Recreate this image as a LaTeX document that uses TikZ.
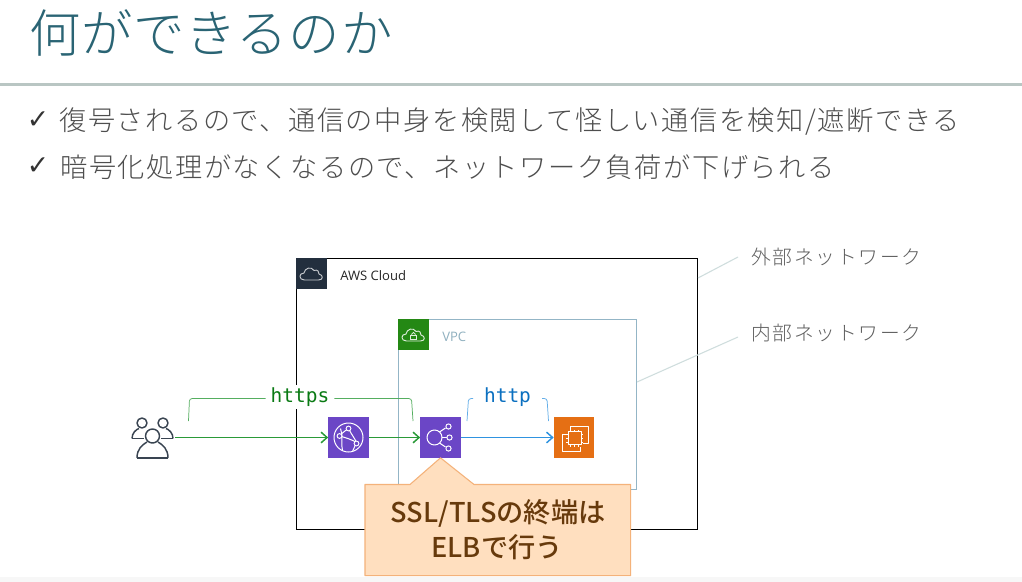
\documentclass[tikz,border=0pt]{standalone}
\usepackage{fontspec}
\usetikzlibrary{arrows.meta,calc}
\setmainfont{Noto Sans CJK JP}
\newfontfamily\jpwide[LetterSpace=5.8]{Noto Sans CJK JP Light}
\newfontfamily\jptitle[LetterSpace=1.6]{Noto Sans CJK JP Light}
\newfontfamily\jpnote[LetterSpace=9]{Noto Sans CJK JP Light}
\newfontfamily\jpcallout{Noto Sans CJK JP Medium}
\newfontfamily\latinui{Open Sans}
\newfontfamily\codefont{DejaVu Sans Mono}
\newfontfamily\symfont{DejaVu Sans}
\definecolor{titleteal}{HTML}{2A6474}
\definecolor{rulegray}{HTML}{B9C6C3}
\definecolor{bodygray}{HTML}{4E4E4E}
\definecolor{notegray}{HTML}{5E5E5E}
\definecolor{leadercol}{HTML}{CFDDDD}
\definecolor{awsnavy}{HTML}{232F3E}
\definecolor{vpcgreen}{HTML}{248814}
\definecolor{vpcline}{HTML}{93B5C6}
\definecolor{vpctext}{HTML}{8FB0BF}
\definecolor{netpurple}{HTML}{6B46C6}
\definecolor{ec2orange}{HTML}{E56F14}
\definecolor{httpsgreen}{HTML}{2A9A38}
\definecolor{httpstext}{HTML}{0A7A14}
\definecolor{httpblue}{HTML}{2F93E0}
\definecolor{httptext}{HTML}{0B70C0}
\definecolor{calloutfill}{HTML}{FFDFBF}
\definecolor{calloutline}{HTML}{F4B27A}
\definecolor{callouttext}{HTML}{673A0C}
\tikzset{
  titletext/.style={anchor=west,inner sep=0pt,text=titleteal,font=\fontsize{38.5pt}{42pt}\selectfont\jptitle},
  bodytext/.style={anchor=west,inner sep=0pt,text=bodygray,font=\fontsize{20.4pt}{24pt}\selectfont\jpwide},
  checkmark/.style={anchor=center,inner sep=0pt,text=black!80,font=\fontsize{20pt}{22pt}\selectfont\symfont},
  notetext/.style={anchor=west,inner sep=0pt,text=notegray,font=\fontsize{14.8pt}{18pt}\selectfont\jpnote},
  leader/.style={draw=leadercol,line width=0.8pt},
  badge/.style={inner sep=0pt,minimum size=23.25pt,outer sep=0pt,anchor=north west},
  svcicon/.style={inner sep=0pt,minimum size=30.5pt,outer sep=0pt},
  glyph/.style={draw=white,line width=0.75pt,line join=round},
  flowgreen/.style={draw=httpsgreen,line width=1.1pt,-{Straight Barb[length=4.5pt,width=8pt]}},
  flowblue/.style={draw=httpblue,line width=1.1pt,-{Straight Barb[length=4.5pt,width=8pt]}},
  bracket/.style={line width=0.55pt,rounded corners=2pt},
  codelabel/.style={inner sep=0pt,font=\fontsize{14.6pt}{17pt}\selectfont\codefont},
  personline/.style={draw=awsnavy!90,line width=1.1pt,line join=round},
}
\begin{document}
\begin{tikzpicture}[x=0.75pt,y=-0.75pt]
\useasboundingbox (0,0) rectangle (1022,582);
\fill[white] (0,0) rectangle (1022,582);
\fill[black!3] (0,577) rectangle (1022,582);
% header
\node[titletext] (title) at (29,33) {何ができるのか};
\fill[rulegray] (0,83) rectangle (1022,86);
\node[checkmark] (c1) at (38,120) {✓};
\node[bodytext] (l1) at (59,121.5) {復号されるので、通信の中身を検閲して怪しい通信を検知/遮断できる};
\node[checkmark] (c2) at (38,166) {✓};
\node[bodytext] (l2) at (60,167) {暗号化処理がなくなるので、ネットワーク負荷が下げられる};
% notes
\node[notetext] (ext) at (751,256.5) {外部ネットワーク};
\node[notetext] (int) at (751,333.5) {内部ネットワーク};
% groups
\node[draw=black,line width=0.95pt,fill=white,inner sep=0pt,minimum width=300.75pt,minimum height=203.25pt,anchor=north west] (cloud) at (296,258) {};
\node[draw=vpcline,line width=0.95pt,fill=white,inner sep=0pt,minimum width=178.5pt,minimum height=127.5pt,anchor=north west] (vpc) at (398,319) {};
\coordinate (extend) at (738,257);
\coordinate (intend) at (738,337);
\coordinate (extstart) at (698,278);
\coordinate (intstart) at (637,382);
\draw[leader] (extstart) -- (extend);
\draw[leader] (intstart) -- (intend);
\node[badge,fill=awsnavy] (cloudbadge) at (296,258) {};
\node[badge,fill=vpcgreen] (vpcbadge) at (398,319) {};
\node[anchor=west,inner sep=0pt,text=black!85,font=\fontsize{9.8pt}{12pt}\selectfont\latinui] (cloudlabel) at (340,275.5) {AWS Cloud};
\node[anchor=west,inner sep=0pt,text=vpctext,font=\fontsize{9.8pt}{12pt}\selectfont\latinui] (vpclabel) at (442,336.5) {VPC};
% badge glyphs
\begin{scope}[shift={(311.5,274)}]
\draw[draw=white!75!awsnavy,line width=0.7pt,line join=round] (-7,6) .. controls (-13,6) and (-13,-1) .. (-7.5,-1) .. controls (-7,-6) and (0,-8) .. (2.5,-3.5) .. controls (6,-5) and (8,-2) .. (7.5,0) .. controls (12,1) and (12,6) .. (7,6) -- cycle;
\end{scope}
\begin{scope}[shift={(413.5,335)}]
\draw[draw=white!85!vpcgreen,line width=0.7pt,line join=round] (-7,6) .. controls (-13,6) and (-13,-1) .. (-7.5,-1) .. controls (-7,-6) and (0,-8) .. (2.5,-3.5) .. controls (6,-5) and (8,-2) .. (7.5,0) .. controls (12,1) and (12,6) .. (7,6) -- cycle;
\draw[draw=white!85!vpcgreen,line width=0.6pt] (-3,0.5) rectangle (3,4.5);
\draw[draw=white!85!vpcgreen,line width=0.6pt] (-1.7,0.5) -- (-1.7,-1) .. controls (-1.7,-3) and (1.7,-3) .. (1.7,-1) -- (1.7,0.5);
\end{scope}
% services
\node[inner sep=0pt,minimum width=33pt,minimum height=33pt] (users) at (153,437.5) {};
\node[svcicon,fill=netpurple] (cf) at (348.5,437.5) {};
\node[svcicon,fill=netpurple] (elb) at (440.5,437.5) {};
\node[svcicon,fill=ec2orange] (ec2) at (574,437.5) {};
% people
\begin{scope}[shift={(153,438)}]
\draw[personline] (-11,-15) circle (5);
\draw[personline] (10,-15) circle (5);
\draw[personline] (-0.5,-2) circle (7);
\draw[personline] (-21,0.5) .. controls (-21,-5) and (-17,-8.5) .. (-14,-9.5);
\draw[personline] (20,0.5) .. controls (20,-5) and (16,-8.5) .. (13,-9.5);
\draw[personline] (-21,0.5) -- (-9,0.5);
\draw[personline] (20,0.5) -- (8,0.5);
\draw[personline] (-16,20) .. controls (-16,11) and (-11,7) .. (-6,4);
\draw[personline] (15,20) .. controls (15,11) and (10,7) .. (5,4);
\draw[personline] (-16,20) -- (15,20);
\end{scope}
% flows
\draw[flowgreen] (users.east) -- (cf.west);
\draw[flowgreen] (cf.east) -- (elb.west);
\draw[flowblue] (elb.east) -- (ec2.west);
% labels on brackets
\node[codelabel,fill=white,text=httpstext,minimum width=51pt,minimum height=18pt] (https) at (300,397) {https};
\node[codelabel,text=httptext] (http) at (507.5,397) {http};
\coordinate (ga) at (188.5,421);
\coordinate (gb) at (413,421);
\coordinate (ba) at (467,421);
\coordinate (bb) at (548.5,421);
\draw[bracket,draw=httpsgreen!80] (ga) -- (189.5,398.5) -- (https.west |- 0,398.5);
\draw[bracket,draw=httpsgreen!80] (https.east |- 0,398.5) -- (411.5,398.5) -- (gb);
\draw[bracket,draw=httpblue!75] (ba) -- (468.5,398.5) -- (473,398.5);
\draw[bracket,draw=httpblue!75] (542,398.5) -- (547,398.5) -- (bb);
% CloudFront glyph
\begin{scope}[shift={(348.5,437.5)}]
\draw[glyph] (0,0) circle (14.5);
\draw[glyph] (-8,-9) .. controls (-5,-2) and (-8,6) .. (-6,13);
\draw[glyph] (-9,-1.5) .. controls (-4,-7) and (-1,-8) .. (0,-9);
\draw[glyph] (0,-9) .. controls (3,-3) and (7,2) .. (8,5);
\draw[glyph] (-9,-1.5) .. controls (-3,0) and (3,2) .. (8,5);
\draw[glyph] (8,5) -- (4,14);
\fill[netpurple,draw=white,line width=0.7pt] (0,-9) circle (2.4);
\fill[netpurple,draw=white,line width=0.7pt] (-9,-1.5) circle (2.4);
\fill[netpurple,draw=white,line width=0.7pt] (8,6) circle (2.4);
\end{scope}
% ELB glyph
\begin{scope}[shift={(440.5,437.5)}]
\draw[glyph] (-6,0) circle (7.5);
\draw[glyph] (1.5,0) -- (7,0);
\draw[glyph] (-1,-5.5) -- (5,-9.5);
\draw[glyph] (-1,5.5) -- (5,9.5);
\fill[netpurple,draw=white,line width=0.7pt] (9,0) circle (2.6);
\fill[netpurple,draw=white,line width=0.7pt] (8,-11) circle (2.6);
\fill[netpurple,draw=white,line width=0.7pt] (8,11) circle (2.6);
\end{scope}
% EC2 glyph
\begin{scope}[shift={(574,437.5)}]
\draw[glyph] (-4,-7) -- (-4,-11.5) -- (14,-11.5) -- (14,6) -- (9,6);
\draw[glyph] (-7,-3) -- (-11.5,-3) -- (-11.5,14) -- (6,14) -- (6,9);
\draw[glyph] (-6,-6) rectangle (7,7);
\foreach \t in {-3.5,0.5,4.5}{
  \draw[draw=white,line width=0.6pt] (\t,-6) -- (\t,-8);
  \draw[draw=white,line width=0.6pt] (\t,7) -- (\t,9);
  \draw[draw=white,line width=0.6pt] (-6,\t) -- (-8,\t);
  \draw[draw=white,line width=0.6pt] (7,\t) -- (9,\t);
}
\end{scope}
% callout
\node[inner sep=0pt,minimum width=198.75pt,minimum height=68pt,anchor=north west,align=center] (callout) at (365,484.5) {};
\draw[draw=calloutline,fill=calloutfill,line width=0.8pt,line join=round]
  (callout.north west) -- (410,484.5) -- (elb.south) -- (474,484.5) -- (callout.north east) -- (callout.south east) -- (callout.south west) -- cycle;
\node[inner sep=0pt,text=callouttext,font=\fontsize{20.4pt}{24pt}\selectfont\jpcallout] (calla) at (498,513.5) {SSL/TLSの終端は};
\node[inner sep=0pt,text=callouttext,font=\fontsize{20.4pt}{24pt}\selectfont\jpcallout] (callb) at (497,547) {ELBで行う};
\end{tikzpicture}
\end{document}
